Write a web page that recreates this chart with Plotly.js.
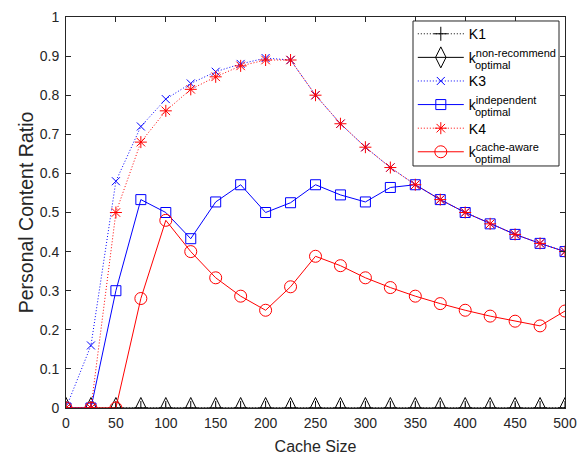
<!DOCTYPE html>
<html><head><meta charset="utf-8">
<script src="https://cdn.plot.ly/plotly-3.0.1.min.js"></script>
<style>html,body{margin:0;padding:0;background:#fff;}#chart{width:586px;height:457px;}</style>
</head><body><div id="chart"></div>
<script>
var cacheSize = [0,25,50,75,100,125,150,175,200,225,250,275,300,325,350,375,400,425,450,475,500];
var k1 = [0,0,0,0,0,0,0,0,0,0,0,0,0,0,0,0,0,0,0,0,0];
var kNonRecommend = [0,0,0,0,0,0,0,0,0,0,0,0,0,0,0,0,0,0,0,0,0];
var k3 = [0,0.16,0.58,0.72,0.79,0.83,0.86,0.88,0.895,0.89,0.80,0.727,0.667,0.615,0.571,0.533,0.50,0.471,0.444,0.421,0.40];
var kIndependent = [0,0,0.30,0.533,0.50,0.433,0.527,0.571,0.50,0.525,0.571,0.545,0.527,0.564,0.571,0.533,0.50,0.471,0.444,0.421,0.40];
var k4 = [0,0,0.50,0.68,0.76,0.815,0.847,0.875,0.89,0.89,0.80,0.727,0.667,0.615,0.571,0.533,0.50,0.471,0.444,0.421,0.40];
var kCacheAware = [0,0,0,0.28,0.48,0.40,0.333,0.286,0.25,0.31,0.388,0.364,0.333,0.308,0.286,0.267,0.25,0.235,0.222,0.21,0.248];
var supLabels = ['non-recommend','independent','cache-aware'];
var subLabel = 'optimal';
var seriesNames = ['K1','k<sup><span style="font-size:11px">'+supLabels[0]+'</span></sup>','K3',
  'k<sup><span style="font-size:11px">'+supLabels[1]+'</span></sup>','K4',
  'k<sup><span style="font-size:11px">'+supLabels[2]+'</span></sup>'];
var xTicks = [0,50,100,150,200,250,300,350,400,450,500];
var yTicks = [0,0.1,0.2,0.3,0.4,0.5,0.6,0.7,0.8,0.9,1];

var FONT = 'Liberation Sans, Arial, sans-serif';
function tr(y, name, color, dash, sym, size, grp){
  return {x: cacheSize, y: y, name: name, type:'scatter', mode:'lines+markers',
    legendgroup: grp,
    line:{color:color, width:1, dash:dash},
    marker:{symbol:sym, size:size, color:color, line:{color:color, width:1}}};
}
var DOT = '1px,2px';
var data = [
  tr(k1, seriesNames[0], '#000000', DOT, 'cross-thin-open', 10, 'a'),
  tr(kNonRecommend, seriesNames[1], '#000000', 'solid', 'diamond-tall-open', 15, 'b'),
  tr(k3, seriesNames[2], '#0000ff', DOT, 'x-thin-open', 8, 'c'),
  tr(kIndependent, seriesNames[3], '#0000ff', 'solid', 'square-open', 10, 'd'),
  tr(k4, seriesNames[4], '#ff0000', DOT, 'asterisk-open', 10, 'e'),
  tr(kCacheAware, seriesNames[5], '#ff0000', 'solid', 'circle-open', 12, 'f')
];
var axFont = {family:FONT, size:14, color:'#262626'};
var layout = {
  width:586, height:457,
  margin:{l:66, r:21, t:17, b:49},
  paper_bgcolor:'#fff', plot_bgcolor:'#fff',
  font: axFont,
  showlegend:true,
  legend:{x:0.695, y:0.997, xanchor:'left', yanchor:'top', bgcolor:'rgba(0,0,0,0)',
    borderwidth:0, traceorder:'grouped', tracegroupgap:2.4, itemwidth:46,
    font:{family:FONT, size:14, color:'#000'}},
  xaxis:{range:[0,500], tickvals:xTicks, ticks:'inside', ticklen:5, tickcolor:'#262626',
    showline:true, linecolor:'#262626', linewidth:1, mirror:'ticks', showgrid:false, zeroline:false,
    tickfont:axFont, ticklabelstandoff:2,
    title:{text:'Cache Size', font:{family:FONT, size:16, color:'#262626'}, standoff:11}},
  yaxis:{range:[0,1], tickvals:yTicks, ticktext:yTicks.map(String), ticks:'inside', ticklen:5, tickcolor:'#262626',
    showline:true, linecolor:'#262626', linewidth:1, mirror:'ticks', showgrid:false, zeroline:false,
    tickfont:axFont, ticklabelstandoff:3,
    title:{text:'Personal Content Ratio', font:{family:FONT, size:19.5, color:'#262626'}, standoff:0}},
  shapes:[{type:'rect', xref:'paper', yref:'paper', x0:0.6954, x1:0.988, y0:0.619, y1:0.9898,
    line:{color:'#262626', width:1}, fillcolor:'#ffffff', layer:'above'}],
  annotations:[0.877,0.757,0.637].map(function(yy){
    return {xref:'paper', yref:'paper', x:0.8156, y:yy, xanchor:'left', yanchor:'middle',
      text:subLabel, showarrow:false, font:{family:FONT, size:11, color:'#000'}};
  })
};
Plotly.newPlot('chart', data, layout, {displayModeBar:false, staticPlot:true});
</script></body></html>
